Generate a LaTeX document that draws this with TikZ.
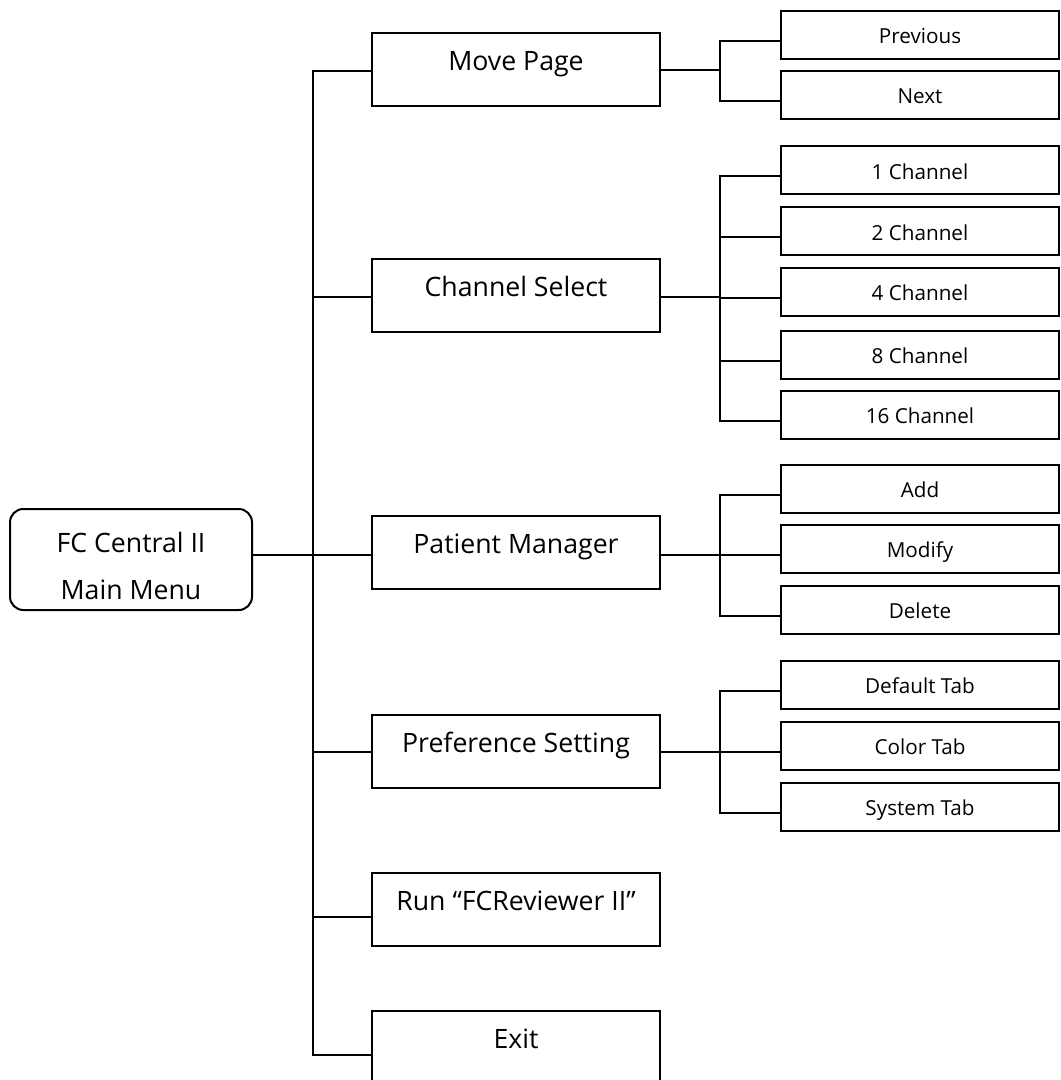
\documentclass[tikz,border=0pt]{standalone}
\usepackage{fontspec}
\setmainfont{Open Sans}
\usetikzlibrary{positioning}

\begin{document}
\begin{tikzpicture}[
      x=0.75pt, y=-0.75pt,
      root/.style={draw, line width=1.5pt, rounded corners=10pt, align=center, minimum width=181.5pt, minimum height=75.75pt, font=\fontsize{20}{35}\selectfont},
      menu/.style={draw, line width=1.5pt, minimum width=216pt, minimum height=54.75pt, text height=15pt, text depth=13.5pt, font=\fontsize{20}{24}\selectfont},
      leaf/.style={draw, line width=1.5pt, minimum width=208.5pt, minimum height=36pt, text height=13pt, text depth=0pt, font=\fontsize{15.5}{18}\selectfont},
      link/.style={line width=1.5pt}
    ]
    \useasboundingbox (0,0) rectangle (1060,1080);
    \coordinate (tk) at (313,0);
    \coordinate (bx) at (720,0);

    \node[root] (fc) at (131,559.5) {\rule{0pt}{25pt}FC Central II\\Main Menu};

    \node[menu] (mp) at (516,70) {Move Page};
    \node[menu] (cs) at (516,295.5) {Channel Select};
    \node[menu] (pm) at (516,552) {Patient Manager};
    \node[menu] (ps) at (516,751.5) {Preference Setting};
    \node[menu] (rv) at (516,909) {Run “FCReviewer II”};
    \node[menu] (ex) at (516,1047.5) {Exit};

    \node[leaf] (prev) at (920,35) {Previous};
    \node[leaf] (next) at (920,95) {Next};
    \node[leaf] (ch1) at (920,170.5) {1 Channel};
    \node[leaf] (ch2) at (920,231.5) {2 Channel};
    \node[leaf] (ch4) at (920,292) {4 Channel};
    \node[leaf] (ch8) at (920,355) {8 Channel};
    \node[leaf] (ch16) at (920,415) {16 Channel};
    \node[leaf] (add) at (920,488.5) {Add};
    \node[leaf] (mod) at (920,549) {Modify};
    \node[leaf] (del) at (920,610) {Delete};
    \node[leaf] (dtab) at (920,685) {Default Tab};
    \node[leaf] (ctab) at (920,746) {Color Tab};
    \node[leaf] (stab) at (920,807) {System Tab};

    % main trunk
    \draw[link] ([yshift=-0.75pt]mp.west) -| ([yshift=-5.6pt]ex.west -| tk) -- ([yshift=-5.6pt]ex.west);
    \draw[link] ([yshift=-1.5pt]cs.west) -- ([yshift=-1.5pt]cs.west -| tk);
    \draw[link] ([yshift=3.4pt]fc.east) -- ([yshift=3.4pt]fc.east -| pm.west);
    \draw[link] (ps.west) -- (ps.west -| tk);
    \draw[link] ([yshift=-6pt]rv.west) -- ([yshift=-6pt]rv.west -| tk);

    % sub menus
    \draw[link] (mp.east) -- (mp.east -| bx);
    \draw[link] ([yshift=-4.5pt]prev.west) -| ([yshift=-4.5pt]next.west -| bx) -- ([yshift=-4.5pt]next.west);

    \draw[link] ([yshift=-1.5pt]cs.east) -- ([yshift=-1.5pt]cs.east -| bx);
    \draw[link] ([yshift=-4.5pt]ch1.west) -| ([yshift=-4.5pt]ch16.west -| bx) -- ([yshift=-4.5pt]ch16.west);
    \foreach \n in {ch2,ch4,ch8} \draw[link] ([yshift=-4.5pt]\n.west) -- ([yshift=-4.5pt]\n.west -| bx);

    \draw[link] ([yshift=-2.25pt]pm.east) -- ([yshift=-2.25pt]pm.east -| bx);
    \draw[link] ([yshift=-4.5pt]add.west) -| ([yshift=-4.5pt]del.west -| bx) -- ([yshift=-4.5pt]del.west);
    \draw[link] ([yshift=-4.5pt]mod.west) -- ([yshift=-4.5pt]mod.west -| bx);

    \draw[link] (ps.east) -- (ps.east -| bx);
    \draw[link] ([yshift=-4.5pt]dtab.west) -| ([yshift=-4.5pt]stab.west -| bx) -- ([yshift=-4.5pt]stab.west);
    \draw[link] ([yshift=-4.5pt]ctab.west) -- ([yshift=-4.5pt]ctab.west -| bx);
  \end{tikzpicture}
\end{document}
